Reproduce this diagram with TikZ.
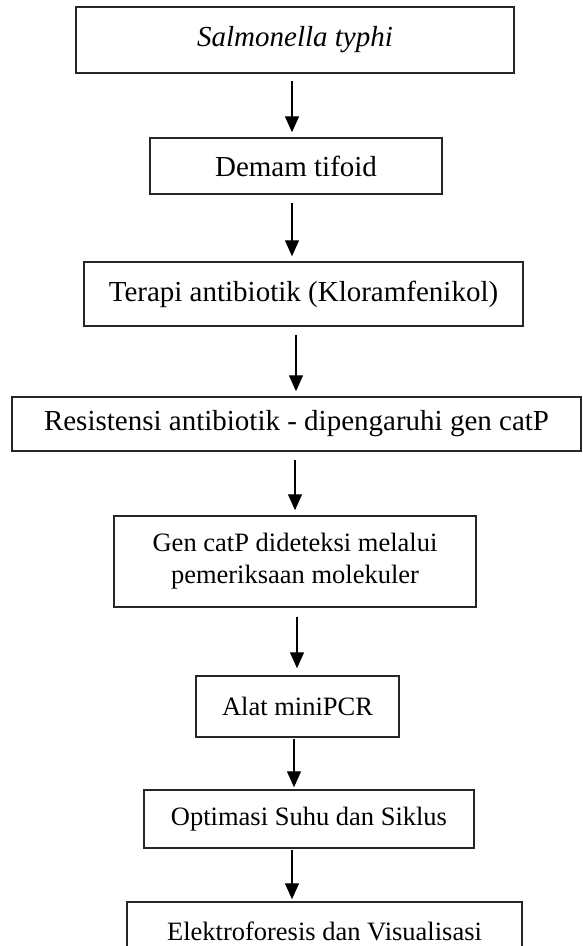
\documentclass[tikz,border=0pt]{standalone}
\usepackage{fontspec}
\setmainfont{Liberation Serif}
\usetikzlibrary{arrows.meta}
\begin{document}
\begin{tikzpicture}[x=1pt,y=-1pt,
  boxbig/.style={draw=black!85, line width=1.5pt, inner sep=0pt, align=center,
    font=\fontsize{29}{33}\selectfont},
  boxsmall/.style={draw=black!85, line width=1.5pt, inner sep=0pt, align=center,
    font=\fontsize{26.5}{32}\selectfont},
  arr/.style={line width=1.4pt, -{Triangle[width=14pt,length=16pt]}}]
\useasboundingbox (0,0) rectangle (583,946);
\node[boxbig, minimum width=438pt, minimum height=66pt] (b1) at (295,40) {\itshape Salmonella typhi};
\node[boxbig, minimum width=292pt, minimum height=56pt] (b2) at (296,166) {Demam tifoid};
\node[boxbig, minimum width=439pt, minimum height=64pt] (b3) at (303.5,294) {Terapi antibiotik (Kloramfenikol)};
\node[boxbig, minimum width=569pt, minimum height=54pt] (b4) at (296.5,424) {Resistensi antibiotik - dipengaruhi gen catP};
\node[boxsmall, minimum width=362pt, minimum height=91pt] (b5) at (295,561.5) {Gen catP dideteksi melalui\\pemeriksaan molekuler};
\node[boxsmall, minimum width=203pt, minimum height=61pt] (b6) at (297.5,706.5) {Alat miniPCR};
\node[boxsmall, minimum width=330pt, minimum height=58pt] (b7) at (309,819) {Optimasi Suhu dan Siklus};
\node[boxsmall, minimum width=395pt, minimum height=58pt] (b8) at (324.5,931) {Elektroforesis dan Visualisasi};
\coordinate (x1) at (292,0);
\coordinate (x2) at (292,0);
\coordinate (x3) at (296,0);
\coordinate (x4) at (295,0);
\coordinate (x5) at (297,0);
\coordinate (x6) at (294,0);
\coordinate (x7) at (292,0);
\draw[arr, shorten <=7pt, shorten >=5pt] (b1.south -| x1) -- (b2.north -| x1);
\draw[arr, shorten <=8pt, shorten >=5pt] (b2.south -| x2) -- (b3.north -| x2);
\draw[arr, shorten <=8pt, shorten >=5pt] (b3.south -| x3) -- (b4.north -| x3);
\draw[arr, shorten <=8pt, shorten >=5pt] (b4.south -| x4) -- (b5.north -| x4);
\draw[arr, shorten <=9pt, shorten >=7pt] (b5.south -| x5) -- (b6.north -| x5);
\draw[arr, shorten <=1pt, shorten >=2pt] (b6.south -| x6) -- (b7.north -| x6);
\draw[arr, shorten <=1pt, shorten >=2pt] (b7.south -| x7) -- (b8.north -| x7);
\end{tikzpicture}
\end{document}
